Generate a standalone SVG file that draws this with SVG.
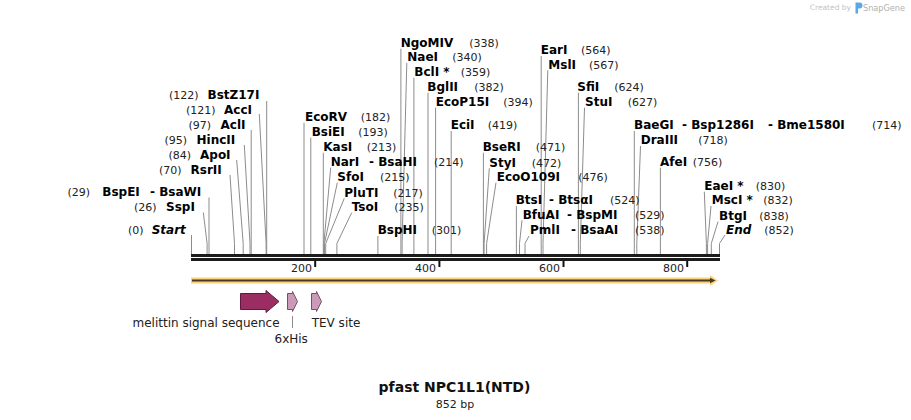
<svg xmlns="http://www.w3.org/2000/svg" width="911" height="420" viewBox="0 0 911 420">
<style>
.n{font-family:"DejaVu Sans",Verdana,sans-serif;font-size:12px;font-weight:bold;fill:#000}
.it{font-style:italic}
.p{font-family:"DejaVu Sans",Verdana,sans-serif;font-size:11px;fill:#222}
.t{font-family:"DejaVu Sans",Verdana,sans-serif;font-size:11px;fill:#222}
.f{font-family:"DejaVu Sans",Verdana,sans-serif;font-size:12px;fill:#222}
.ln{stroke:#8c8c8c;stroke-width:1;fill:none}
.tk{stroke:#111;stroke-width:2}
.fa{fill:#9b2d62;stroke:#5e1a3c;stroke-width:1}
.fb{fill:#cc9ab8;stroke:#6e5364;stroke-width:1}
</style>
<rect width="911" height="420" fill="#fff"/>

<g id="watermark">
<text x="851" y="10" text-anchor="end" font-family="DejaVu Sans,sans-serif" font-size="7.5" fill="#c4c4c4">Created by</text>
<path d="M855.5,2.5 h4 a3,3 0 0 1 0,6 h-1.5 v5 h-2.5z" fill="#5aa9e6"/>
<text x="863" y="11" font-family="DejaVu Sans,sans-serif" font-size="9.5" fill="#b0b0b0" textLength="42" lengthAdjust="spacingAndGlyphs">SnapGene</text>
</g>

<g id="connectors">
<polyline class="ln" points="191.5,235 191.5,254"/>
<polyline class="ln" points="203.3,212.5 207.1,243.5 207.1,254"/>
<polyline class="ln" points="209,197.5 209,254"/>
<polyline class="ln" points="230,175 234.5,243.5 234.5,254"/>
<polyline class="ln" points="236.7,160 243.2,243.5 243.2,254"/>
<polyline class="ln" points="244.3,145 250,243.5 250,254"/>
<polyline class="ln" points="251.2,130 251.2,254"/>
<polyline class="ln" points="259.3,114 266.1,243.5 266.1,254"/>
<polyline class="ln" points="266.7,101 266.7,254"/>

<polyline class="ln" points="304,122.7 304,254"/>
<polyline class="ln" points="310.8,137.7 310.8,254"/>
<polyline class="ln" points="323.3,152.7 323.3,254"/>
<polyline class="ln" points="330.7,167.7 323.9,243.5 323.9,254"/>
<polyline class="ln" points="337.3,182.7 324.5,243.5 324.5,254"/>
<polyline class="ln" points="344.3,198.3 325.7,243.5 325.7,254"/>
<polyline class="ln" points="351.7,212.7 336.9,243.5 336.9,254"/>
<polyline class="ln" points="377.9,236 377.9,254"/>
<polyline class="ln" points="400.9,48.7 400.9,254"/>
<polyline class="ln" points="406.8,63 402.1,243.5 402.1,254"/>
<polyline class="ln" points="413.9,77.7 413.9,254"/>
<polyline class="ln" points="428,92.7 428,254"/>
<polyline class="ln" points="435.6,107.7 435.6,254"/>
<polyline class="ln" points="451.2,131 451.2,254"/>
<polyline class="ln" points="483.4,152.7 483.4,254"/>
<polyline class="ln" points="489.3,168.3 484.1,243.5 484.1,254"/>
<polyline class="ln" points="496,182.7 486.6,243.5 486.6,254"/>
<polyline class="ln" points="516.4,206 516.4,254"/>
<polyline class="ln" points="522,220.3 519.5,243.5 519.5,254"/>
<polyline class="ln" points="529,236 525,243.5 525,254"/>
<polyline class="ln" points="541.2,56 541.2,254"/>
<polyline class="ln" points="547.8,70.3 543,243.5 543,254"/>
<polyline class="ln" points="578.4,92.7 578.4,254"/>
<polyline class="ln" points="584.5,107.7 580.3,243.5 580.3,254"/>
<polyline class="ln" points="634.3,131 634.3,254"/>
<polyline class="ln" points="640.5,146 636.8,243.5 636.8,254"/>
<polyline class="ln" points="660.4,167.7 660.4,254"/>
<polyline class="ln" points="704.3,191.7 706.4,243.5 706.4,254"/>
<polyline class="ln" points="711,206 707.6,243.5 707.6,254"/>
<polyline class="ln" points="718,221.7 711.3,243.5 711.3,254"/>
<polyline class="ln" points="725,235 719.5,243.5 719.5,254"/>
<line class="ln" x1="292.5" y1="316" x2="292.5" y2="328"/>
</g>

<g id="sequence">
<rect x="191" y="254" width="529" height="3" fill="#1c1c1c"/>
<rect x="191" y="258" width="529" height="3" fill="#1c1c1c"/>
<line class="tk" x1="315.2" y1="261" x2="315.2" y2="267"/>
<line class="tk" x1="439.4" y1="261" x2="439.4" y2="267"/>
<line class="tk" x1="563.5" y1="261" x2="563.5" y2="267"/>
<line class="tk" x1="687.2" y1="261" x2="687.2" y2="267"/>
<text class="t" x="312" y="272" text-anchor="end">200</text>
<text class="t" x="436" y="272" text-anchor="end">400</text>
<text class="t" x="560" y="272" text-anchor="end">600</text>
<text class="t" x="684" y="272" text-anchor="end">800</text>
</g>

<g id="orf">
<path d="M191,277.5 H710 V275 L718,280.5 L710,286 V283.5 H191 Z" fill="#fbd27f"/>
<line x1="192" y1="280.5" x2="711" y2="280.5" stroke="#4a3a1c" stroke-width="2"/>
<path d="M710,277.8 L715.5,280.5 L710,283.2 Z" fill="#4a3a1c"/>
</g>

<g id="melittin">
<path class="fa" d="M240.5,293.5 H266 V290.5 L279,301.5 L266,312.5 V309.5 H240.5 Z"/>
<text class="f" x="132.5" y="327">melittin signal sequence</text>
</g>
<g id="his6">
<path class="fb" d="M287.5,293.5 H292.5 V291.5 L297.5,301.5 L292.5,311.5 V309.5 H287.5 Z"/>
<text class="f" x="274.5" y="343">6xHis</text>
</g>
<g id="tev">
<path class="fb" d="M311.5,293.5 H316.5 V291.5 L321.5,301.5 L316.5,311.5 V309.5 H311.5 Z"/>
<text class="f" x="311.7" y="327">TEV site</text>
</g>

<g id="start"><text class="p" x="128" y="233.5">(0)</text><text class="n it" x="151.7" y="233.5">Start</text></g>
<g id="sspI"><text class="p" x="134" y="211">(26)</text><text class="n" x="166" y="211">SspI</text></g>
<g id="bspEI"><text class="p" x="67.5" y="196">(29)</text><text class="n" x="102.3" y="196">BspEI</text><text class="n" x="150" y="196">- BsaWI</text></g>
<g id="rsrII"><text class="p" x="159" y="174">(70)</text><text class="n" x="190.5" y="174">RsrII</text></g>
<g id="apoI"><text class="p" x="168.5" y="159">(84)</text><text class="n" x="200" y="159">ApoI</text></g>
<g id="hincII"><text class="p" x="164.5" y="144">(95)</text><text class="n" x="196.5" y="144">HincII</text></g>
<g id="aclI"><text class="p" x="188.5" y="128.5">(97)</text><text class="n" x="220.5" y="128.5">AclI</text></g>
<g id="accI"><text class="p" x="186" y="114">(121)</text><text class="n" x="224" y="114">AccI</text></g>
<g id="bstZ17I"><text class="p" x="169" y="99">(122)</text><text class="n" x="207.5" y="99">BstZ17I</text></g>

<g id="ecoRV"><text class="n" x="305" y="121">EcoRV</text><text class="p" x="360.7" y="121">(182)</text></g>
<g id="bsiEI"><text class="n" x="311.7" y="136">BsiEI</text><text class="p" x="358.3" y="136">(193)</text></g>
<g id="kasI"><text class="n" x="323.3" y="151">KasI</text><text class="p" x="366.7" y="151">(213)</text></g>
<g id="narI"><text class="n" x="330.7" y="166">NarI</text><text class="n" x="369" y="166">- BsaHI</text><text class="p" x="434" y="166">(214)</text></g>
<g id="sfoI"><text class="n" x="337.3" y="181">SfoI</text><text class="p" x="380" y="181">(215)</text></g>
<g id="pluTI"><text class="n" x="344.3" y="196.5">PluTI</text><text class="p" x="393.3" y="196.5">(217)</text></g>
<g id="tsoI"><text class="n" x="351.7" y="211">TsoI</text><text class="p" x="394.3" y="211">(235)</text></g>
<g id="bspHI"><text class="n" x="377.7" y="234.3">BspHI</text><text class="p" x="431.7" y="234.3">(301)</text></g>
<g id="ngoMIV"><text class="n" x="400.7" y="47">NgoMIV</text><text class="p" x="469.3" y="47">(338)</text></g>
<g id="naeI"><text class="n" x="407.3" y="61.3">NaeI</text><text class="p" x="452.3" y="61.3">(340)</text></g>
<g id="bclI"><text class="n" x="414.3" y="76">BclI *</text><text class="p" x="460.7" y="76">(359)</text></g>
<g id="bglII"><text class="n" x="427.3" y="91">BglII</text><text class="p" x="474.3" y="91">(382)</text></g>
<g id="ecoP15I"><text class="n" x="435.7" y="106">EcoP15I</text><text class="p" x="503.3" y="106">(394)</text></g>
<g id="eciI"><text class="n" x="450.7" y="129.3">EciI</text><text class="p" x="487.7" y="129.3">(419)</text></g>
<g id="bseRI"><text class="n" x="482.7" y="151">BseRI</text><text class="p" x="535.7" y="151">(471)</text></g>
<g id="styI"><text class="n" x="489.3" y="166.5">StyI</text><text class="p" x="531.7" y="166.5">(472)</text></g>
<g id="ecoO109I"><text class="n" x="496.7" y="181">EcoO109I</text><text class="p" x="578.3" y="181">(476)</text></g>
<g id="btsI"><text class="n" x="515.7" y="204.3">BtsI</text><text class="n" x="549" y="204.3">- BtsαI</text><text class="p" x="610" y="204.3">(524)</text></g>
<g id="bfuAI"><text class="n" x="522.7" y="218.6">BfuAI</text><text class="n" x="567" y="218.6">- BspMI</text><text class="p" x="635" y="218.6">(529)</text></g>
<g id="pmlI"><text class="n" x="530" y="234.3">PmlI</text><text class="n" x="571" y="234.3">- BsaAI</text><text class="p" x="635" y="234.3">(538)</text></g>
<g id="earI"><text class="n" x="540.7" y="54.3">EarI</text><text class="p" x="581" y="54.3">(564)</text></g>
<g id="mslI"><text class="n" x="548.3" y="68.6">MslI</text><text class="p" x="589" y="68.6">(567)</text></g>
<g id="sfiI"><text class="n" x="577.3" y="91">SfiI</text><text class="p" x="614.3" y="91">(624)</text></g>
<g id="stuI"><text class="n" x="585" y="106">StuI</text><text class="p" x="627.7" y="106">(627)</text></g>
<g id="baeGI"><text class="n" x="634" y="129.3">BaeGI</text><text class="n" x="682" y="129.3">- Bsp1286I</text><text class="n" x="768" y="129.3">- Bme1580I</text><text class="p" x="872" y="129.3">(714)</text></g>
<g id="draIII"><text class="n" x="640.7" y="144.3">DraIII</text><text class="p" x="698.3" y="144.3">(718)</text></g>
<g id="afeI"><text class="n" x="660" y="166">AfeI</text><text class="p" x="692.7" y="166">(756)</text></g>
<g id="eaeI"><text class="n" x="704.3" y="190">EaeI *</text><text class="p" x="755.7" y="190">(830)</text></g>
<g id="mscI"><text class="n" x="711.7" y="204.3">MscI *</text><text class="p" x="763.3" y="204.3">(832)</text></g>
<g id="btgI"><text class="n" x="719" y="220">BtgI</text><text class="p" x="759.3" y="220">(838)</text></g>
<g id="end"><text class="n it" x="726" y="233.6">End</text><text class="p" x="764.3" y="233.6">(852)</text></g>

<g id="title">
<text x="454.5" y="392" text-anchor="middle" font-family="DejaVu Sans,sans-serif" font-size="14" font-weight="bold" fill="#111">pfast NPC1L1(NTD)</text>
<text x="455" y="407.5" text-anchor="middle" font-family="DejaVu Sans,sans-serif" font-size="11" fill="#222">852 bp</text>
</g>
</svg>
